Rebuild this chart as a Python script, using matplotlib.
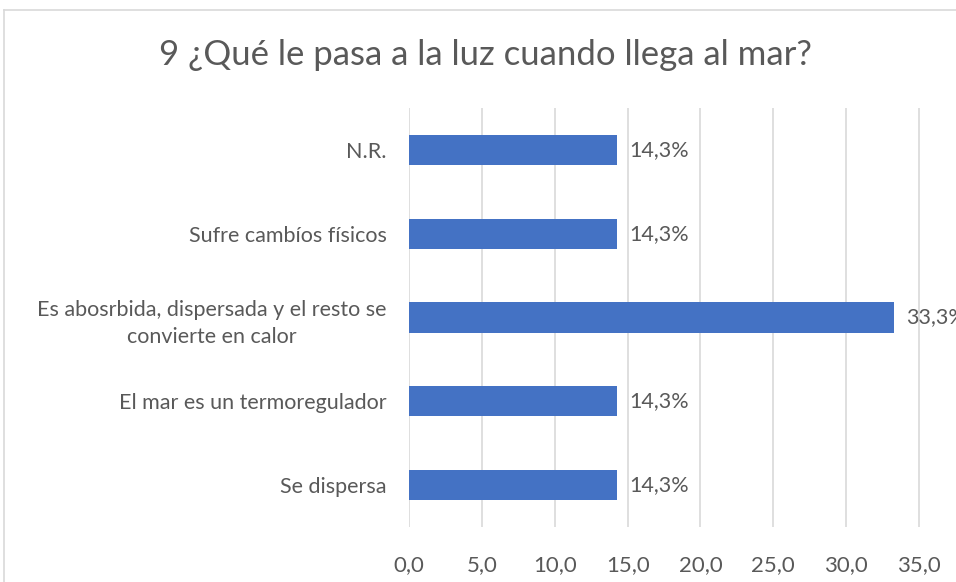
import matplotlib.pyplot as plt
from matplotlib.lines import Line2D

plt.rcParams['font.family'] = ['Lato', 'DejaVu Sans']

categories = ['Se dispersa',
              'El mar es un termoregulador',
              'Es abosrbida, dispersada y el resto se\nconvierte en calor',
              'Sufre cambíos físicos',
              'N.R.']
values = [14.3, 14.3, 33.3, 14.3, 14.3]
xticks = [0, 5, 10, 15, 20, 25, 30, 35]
title = '9 ¿Qué le pasa a la luz cuando llega al mar?'

TEXT = '#595959'
BAR = '#4472C4'
GRID = '#D9D9D9'

fig = plt.figure(figsize=(9.56, 5.82), dpi=100)
ax = fig.add_axes([0.4278, 0.0945, 0.6098, 0.7199])

pos = range(len(categories))
ax.barh(pos, values, height=0.36, color=BAR, zorder=3)
for y, v in zip(pos, values):
    ax.text(v + 0.8, y, f'{v:.1f}%'.replace('.', ','), va='center', ha='left',
            fontsize=15.5, color=TEXT, zorder=4)

ax.set_xlim(0, 40)
ax.set_ylim(-0.5, len(categories) - 0.5)
ax.set_xticks(xticks)
ax.set_xticklabels([f'{t:.1f}'.replace('.', ',') for t in xticks])
ax.set_yticks(list(pos))
ax.set_yticklabels(categories, multialignment='center', linespacing=1.45)
ax.tick_params(axis='y', length=0, pad=16, labelsize=15.5, labelcolor=TEXT)
ax.tick_params(axis='x', length=0, pad=20, labelsize=16, labelcolor=TEXT)
ax.grid(axis='x', color=GRID, linewidth=1.2, zorder=0)
for s in ax.spines.values():
    s.set_visible(False)

fig.text(0.508, 0.905, title, ha='center', va='center', fontsize=25, color=TEXT)

# outer chart border (cut off at right and bottom)
fig.add_artist(Line2D([0.0045, 1], [0.983, 0.983], color=GRID, linewidth=1.2))
fig.add_artist(Line2D([0.0045, 0.0045], [0, 0.983], color=GRID, linewidth=1.2))

fig.savefig('out.png', dpi=100)
